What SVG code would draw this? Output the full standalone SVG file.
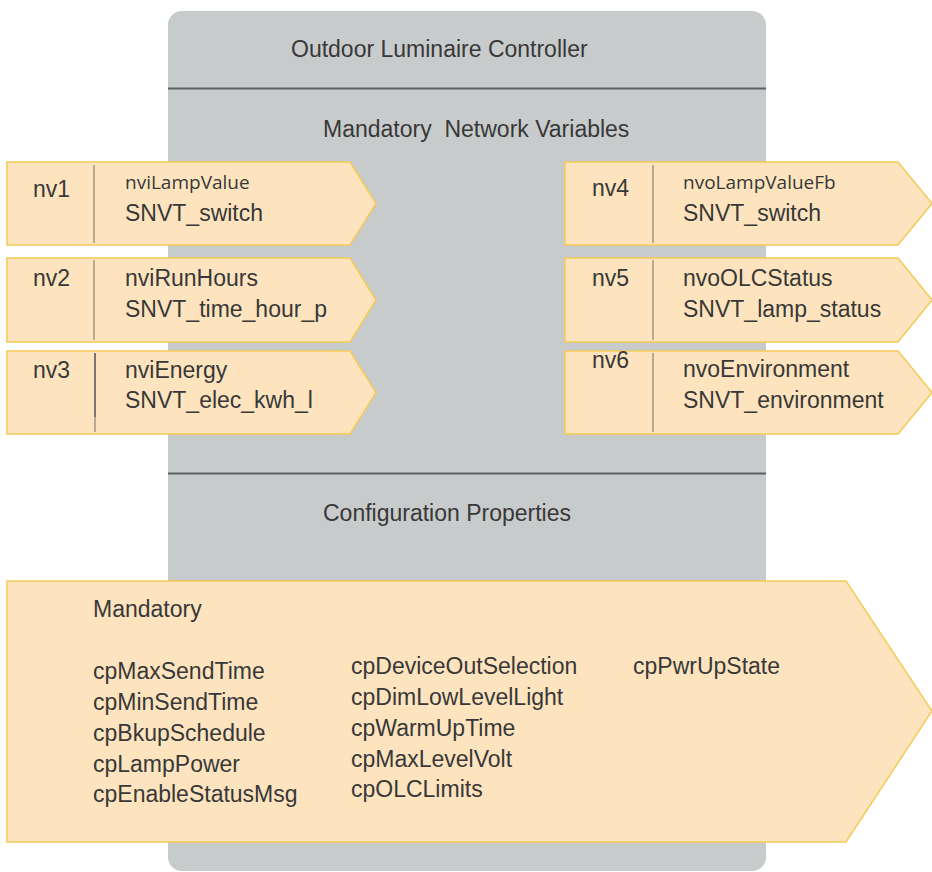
<svg xmlns="http://www.w3.org/2000/svg" width="932" height="872" viewBox="0 0 932 872">
<style>
  text { font-family: "Liberation Sans", Arial, sans-serif; fill: #383838; }
  .h { font-size: 23px; }
  .t { font-size: 23px; }
  .s { font-family: "Open Sans", "Liberation Sans", sans-serif; font-size: 19px; }
  .box { fill: #fde4bf; stroke: #f4ca55; stroke-width: 1.5; }
  .div { stroke: #b9ab92; stroke-width: 2; }
  .sep { stroke: #5d6163; stroke-width: 2; }
</style>
<rect width="932" height="872" fill="#ffffff"/>
<g id="controller">
  <rect x="168" y="11" width="598" height="860" rx="14" fill="#c8cbcc"/>
  <line class="sep" x1="168" y1="88.5" x2="766" y2="88.5"/>
  <line class="sep" x1="168" y1="473.5" x2="766" y2="473.5"/>
  <text class="h" x="291" y="57">Outdoor Luminaire Controller</text>
  <text class="h" x="323" y="137" xml:space="preserve">Mandatory  Network Variables</text>
  <text class="h" x="323" y="521">Configuration Properties</text>
</g>
<g id="nv1">
  <polygon class="box" points="7,162 350,162 376,203.5 350,245 7,245"/>
  <line class="div" x1="94" y1="165" x2="94" y2="243"/>
  <text class="t" x="33" y="197">nv1</text>
  <text class="s" x="125" y="189">nviLampValue</text>
  <text class="t" x="125" y="221">SNVT_switch</text>
</g>
<g id="nv2">
  <polygon class="box" points="7,258 350,258 376,300 350,342 7,342"/>
  <line class="div" x1="94" y1="260" x2="94" y2="340"/>
  <text class="t" x="33" y="286">nv2</text>
  <text class="t" x="125" y="286">nviRunHours</text>
  <text class="t" x="125" y="317">SNVT_time_hour_p</text>
</g>
<g id="nv3">
  <polygon class="box" points="7,351 350,351 376,392.5 350,434 7,434"/>
  <line x1="95" y1="353" x2="95" y2="417" stroke="#4a5056" stroke-width="1.5"/>
  <line class="div" x1="95" y1="417" x2="95" y2="432"/>
  <text class="t" x="33" y="378">nv3</text>
  <text class="t" x="125" y="378">nviEnergy</text>
  <text class="t" x="125" y="408">SNVT_elec_kwh_l</text>
</g>
<g id="nv4">
  <polygon class="box" points="565,162 898,162 932,203.5 898,245 565,245"/>
  <line class="div" x1="653" y1="165" x2="653" y2="243"/>
  <text class="t" x="592" y="196">nv4</text>
  <text class="s" x="683" y="189">nvoLampValueFb</text>
  <text class="t" x="683" y="221">SNVT_switch</text>
</g>
<g id="nv5">
  <polygon class="box" points="565,258 898,258 932,300 898,342 565,342"/>
  <line class="div" x1="653" y1="260" x2="653" y2="340"/>
  <text class="t" x="592" y="286">nv5</text>
  <text class="t" x="683" y="286">nvoOLCStatus</text>
  <text class="t" x="683" y="317">SNVT_lamp_status</text>
</g>
<g id="nv6">
  <polygon class="box" points="565,351 898,351 932,392.5 898,434 565,434"/>
  <line class="div" x1="653" y1="353" x2="653" y2="432"/>
  <text class="t" x="592" y="368">nv6</text>
  <text class="t" x="683" y="377">nvoEnvironment</text>
  <text class="t" x="683" y="408">SNVT_environment</text>
</g>
<g id="config">
  <polygon class="box" points="7,581 846,581 932,711 846,842 7,842"/>
  <text class="t" x="93" y="617">Mandatory</text>
  <text class="t" x="93" y="679">cpMaxSendTime</text>
  <text class="t" x="93" y="710">cpMinSendTime</text>
  <text class="t" x="93" y="741">cpBkupSchedule</text>
  <text class="t" x="93" y="772">cpLampPower</text>
  <text class="t" x="93" y="802">cpEnableStatusMsg</text>
  <text class="t" x="351" y="674">cpDeviceOutSelection</text>
  <text class="t" x="351" y="705">cpDimLowLevelLight</text>
  <text class="t" x="351" y="736">cpWarmUpTime</text>
  <text class="t" x="351" y="767">cpMaxLevelVolt</text>
  <text class="t" x="351" y="797">cpOLCLimits</text>
  <text class="t" x="633" y="674">cpPwrUpState</text>
</g>
<g id="connectors"></g>
</svg>
